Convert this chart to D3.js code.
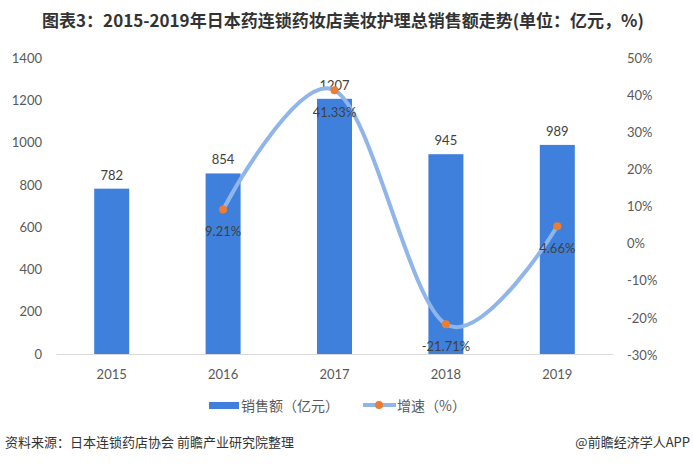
<!DOCTYPE html>
<html><head><meta charset="utf-8">
<script src="https://cdn.jsdelivr.net/npm/d3@7/dist/d3.min.js"></script>
<style>body{margin:0;background:#fff;} svg{display:block;font-family:"Noto Sans CJK SC","Noto Sans",sans-serif;}</style>
</head><body>
<svg id="c" width="693" height="464"></svg>
<script>
const years = ["2015","2016","2017","2018","2019"];
const sales = [782, 854, 1207, 945, 989];
const growth = [null, 9.21, 41.33, -21.71, 4.66];
const leftTicks = [0,200,400,600,800,1000,1200,1400];
const rightTicks = [-30,-20,-10,0,10,20,30,40,50];

const svg = d3.select("#c");
const x = d3.scaleBand().domain(years).range([56, 613]);
const yL = d3.scaleLinear().domain([0,1400]).range([354, 58]);
const yR = d3.scaleLinear().domain([-30,50]).range([355, 58]);
const numFont = "Lato, 'Noto Sans', sans-serif";

svg.append("text").attr("x", 343).attr("y", 27).attr("text-anchor","middle")
  .attr("font-size", 17).attr("font-weight","bold").attr("fill","#333")
  .text("图表3：2015-2019年日本药连锁药妆店美妆护理总销售额走势(单位：亿元，%)");

// left axis
const gL = svg.append("g").attr("transform","translate(42,0)")
  .call(d3.axisLeft(yL).tickValues(leftTicks).tickFormat(d3.format("d")).tickSize(0).tickPadding(0));
gL.select(".domain").remove();
gL.selectAll("text").attr("font-size",13).attr("fill","#595959").attr("font-family",numFont);

// right axis
const gR = svg.append("g").attr("transform","translate(627,0)")
  .call(d3.axisRight(yR).tickValues(rightTicks).tickFormat(d=>d+"%").tickSize(0).tickPadding(0));
gR.select(".domain").remove();
gR.selectAll("text").attr("font-size",13).attr("fill","#595959").attr("font-family",numFont);

// x axis
const gX = svg.append("g").attr("transform","translate(0,354)")
  .call(d3.axisBottom(x).tickSize(0).tickPadding(16));
gX.select(".domain").attr("stroke","#d9d9d9");
gX.selectAll("text").attr("font-size",13).attr("fill","#595959").attr("font-family",numFont);

// bars
const bw = 35;
svg.selectAll(".bar").data(years).enter().append("rect")
  .attr("x", d => x(d) + x.bandwidth()/2 - bw/2)
  .attr("y", (d,i) => yL(sales[i]))
  .attr("width", bw)
  .attr("height", (d,i) => yL(0) - yL(sales[i]))
  .attr("fill", "#3F80DD");
svg.selectAll(".bl").data(years).enter().append("text")
  .attr("x", d => x(d) + x.bandwidth()/2)
  .attr("y", (d,i) => yL(sales[i]) - 9)
  .attr("text-anchor","middle").attr("font-size",13).attr("fill","#404040")
  .attr("font-family",numFont)
  .text((d,i)=>sales[i]);

// growth line
const pts = years.map((d,i)=>({x: x(d)+x.bandwidth()/2, v: growth[i]})).filter(p=>p.v!==null);
const line = d3.line().x(p=>p.x).y(p=>yR(p.v)).curve(d3.curveCardinal.tension(0));
svg.append("path").attr("d", line(pts)).attr("fill","none")
  .attr("stroke","#8FB5EA").attr("stroke-width",4).attr("stroke-linecap","round");
svg.selectAll(".dot").data(pts).enter().append("circle")
  .attr("cx", p=>p.x).attr("cy", p=>yR(p.v)).attr("r",4).attr("fill","#ED7D31");
svg.selectAll(".gl").data(pts).enter().append("text")
  .attr("x", p=>p.x).attr("y", p=>yR(p.v)+27)
  .attr("text-anchor","middle").attr("font-size",13).attr("fill","#404040")
  .attr("font-family",numFont)
  .text(p=>p.v.toFixed(2)+"%");

// legend
svg.append("rect").attr("x",209).attr("y",402).attr("width",30).attr("height",7).attr("fill","#3F80DD");
svg.append("text").attr("x",241).attr("y",411).attr("font-size",14).attr("fill","#595959").text("销售额（亿元）");
svg.append("line").attr("x1",363).attr("x2",396).attr("y1",405).attr("y2",405).attr("stroke","#8FB5EA").attr("stroke-width",4);
svg.append("circle").attr("cx",379).attr("cy",405).attr("r",4).attr("fill","#ED7D31");
svg.append("text").attr("x",397).attr("y",411).attr("font-size",14).attr("fill","#595959").text("增速（%）");

// footer
svg.append("text").attr("x",5).attr("y",447).attr("font-size",13).attr("fill","#333").text("资料来源：日本连锁药店协会 前瞻产业研究院整理");
svg.append("text").attr("x",690).attr("y",447).attr("text-anchor","end").attr("font-size",13).attr("fill","#333").text("@前瞻经济学人APP");
</script>
</body></html>
